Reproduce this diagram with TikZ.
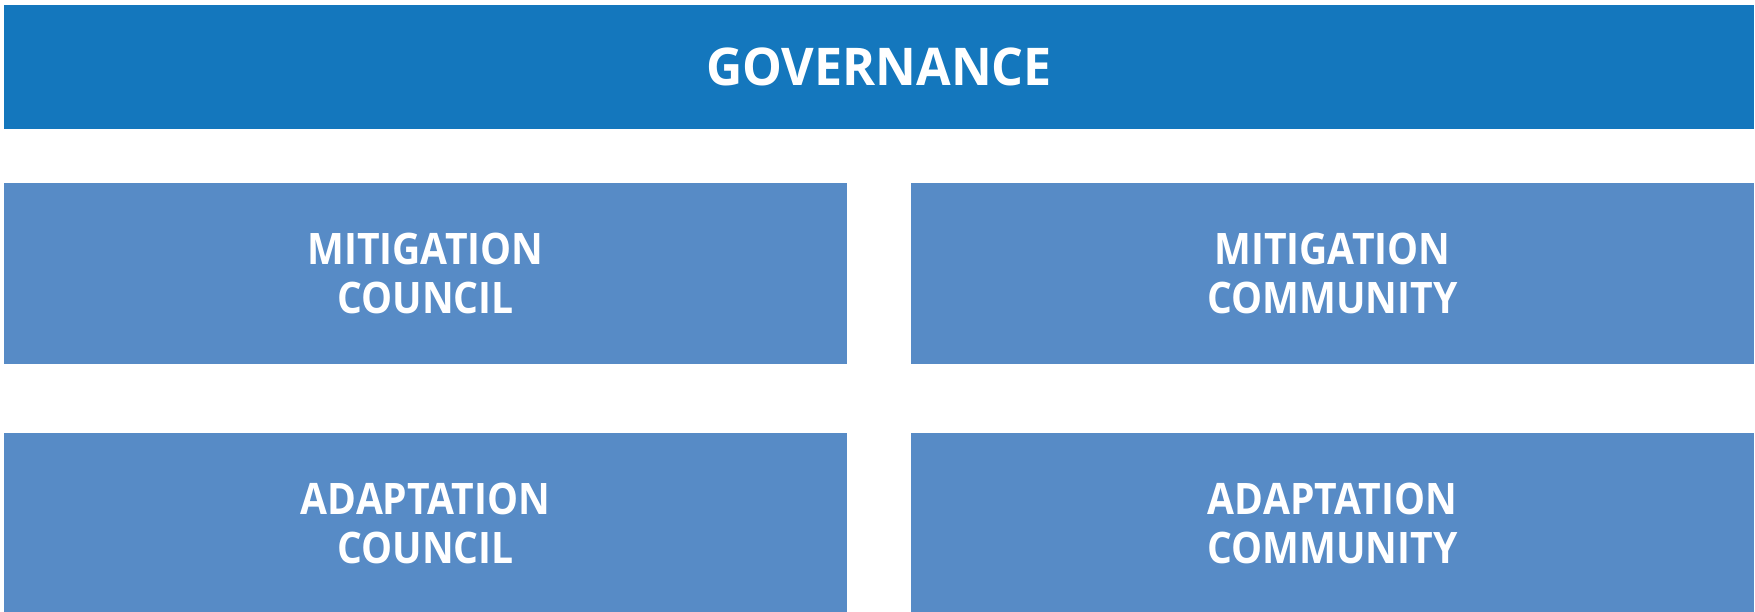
\documentclass[tikz,border=0pt]{standalone}
\usepackage{fontspec}
\setmainfont{Open Sans}
\newfontfamily\govfont{Open Sans}[FakeStretch=0.965]
\newfontfamily\panelfont{Open Sans}[FakeStretch=0.9]
\definecolor{govblue}{RGB}{20,119,189}
\definecolor{boxblue}{RGB}{87,139,198}
\begin{document}
\begin{tikzpicture}[x=1pt,y=-1pt,
  bar/.style={fill=govblue, draw=none, inner sep=0pt, minimum width=1750pt, minimum height=124pt,
    text=white, font=\govfont\fontsize{52}{60}\selectfont\bfseries},
  panel/.style={fill=boxblue, draw=none, inner sep=0pt, minimum width=843pt, minimum height=180.5pt,
    text=white, align=center, font=\panelfont\fontsize{43.4}{49}\selectfont\bfseries}]
\useasboundingbox (0,0) rectangle (1755,612);
\fill[white] (0,0) rectangle (1755,612);
\node[bar] (gov) at (879,67) {GOVERNANCE};
\node[panel] (mcouncil) at (425.5,273.5) {MITIGATION\\COUNCIL};
\node[panel] (mcommunity) at (1332.5,273.5) {MITIGATION\\COMMUNITY};
\node[panel] (acouncil) at (425.5,523) {ADAPTATION\\COUNCIL};
\node[panel] (acommunity) at (1332.5,523) {ADAPTATION\\COMMUNITY};
\end{tikzpicture}
\end{document}
